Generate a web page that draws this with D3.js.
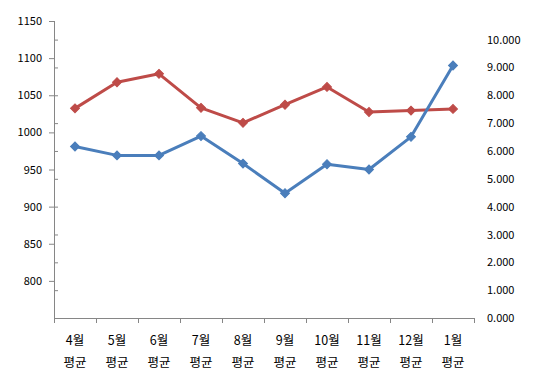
<!DOCTYPE html>
<html>
<head>
<meta charset="utf-8">
<script src="https://cdn.jsdelivr.net/npm/d3@7"></script>
<style>
  body { margin: 0; background: #fff; }
  text { font-family: "Noto Sans CJK KR", "Noto Sans", sans-serif; font-size: 11px; fill: #000; }
  text.cat { font-size: 12.5px; }
</style>
</head>
<body>
<div id="chart"></div>
<script>
// months on the x axis (second line is always 평균)
let months = ["4월", "5월", "6월", "7월", "8월", "9월", "10월", "11월", "12월", "1월"];
let subLabel = "평균";

// blue series, left axis
let leftValues = [981, 969, 969, 995, 958, 918, 957, 950, 994, 1090];
// red series, right axis
let rightValues = [7.53, 8.47, 8.77, 7.55, 7.01, 7.66, 8.30, 7.40, 7.45, 7.51];

let leftTicks = [800, 850, 900, 950, 1000, 1050, 1100, 1150];
let rightTicks = [0, 1, 2, 3, 4, 5, 6, 7, 8, 9, 10];

let width = 535, height = 383;
let plotLeft = 54, plotRight = 474, plotTop = 21, plotBottom = 318;
let axisColor = "#868686";

let svg = d3.select("#chart").append("svg")
    .attr("width", width)
    .attr("height", height);

let x = d3.scaleBand()
    .domain(months)
    .range([plotLeft, plotRight]);

let xEdge = d3.scaleLinear()
    .domain([0, months.length])
    .range([plotLeft, plotRight]);

let yLeft = d3.scaleLinear()
    .domain([750, 1150])
    .range([plotBottom, plotTop]);

let yRight = d3.scaleLinear()
    .domain([0, 10])
    .range([plotBottom, 39.6]);

// left axis with labels
let gLeft = svg.append("g")
    .attr("transform", "translate(" + plotLeft + ",0)")
    .call(d3.axisLeft(yLeft).tickValues(leftTicks).tickSize(5).tickPadding(7)
        .tickFormat(d3.format("d")));
gLeft.select(".domain").remove();
gLeft.selectAll("text").attr("font-size", null).attr("font-family", null);
gLeft.selectAll("line").attr("stroke", axisColor);

// inner ticks that Excel draws along the left axis line
let gInner = svg.append("g")
    .attr("transform", "translate(" + plotLeft + ",0)")
    .call(d3.axisRight(yRight).tickValues(rightTicks.slice(1)).tickSize(4).tickFormat(""));
gInner.select(".domain").remove();
gInner.selectAll("line").attr("stroke", axisColor);

svg.append("line")
    .attr("x1", plotLeft + 0.5).attr("x2", plotLeft + 0.5)
    .attr("y1", plotTop).attr("y2", plotBottom)
    .attr("stroke", axisColor);

// right axis, labels only
let gRight = svg.append("g")
    .attr("transform", "translate(487,0)")
    .call(d3.axisRight(yRight).tickValues(rightTicks).tickSize(0).tickPadding(0)
        .tickFormat(d3.format(".3f")));
gRight.select(".domain").remove();
gRight.selectAll("text").attr("font-size", null).attr("font-family", null);

// x axis: line and boundary ticks
let gX = svg.append("g")
    .attr("transform", "translate(0," + plotBottom + ")")
    .call(d3.axisBottom(xEdge).ticks(months.length).tickSize(5).tickFormat("").tickSizeOuter(5));
gX.select(".domain").attr("stroke", axisColor);
gX.selectAll("line").attr("stroke", axisColor);

// category labels, two lines each
let labels = svg.append("g").selectAll("text")
    .data(months)
    .enter().append("text")
    .attr("class", "cat")
    .attr("text-anchor", "middle")
    .attr("x", function (d) { return x(d) + x.bandwidth() / 2; });
labels.append("tspan")
    .attr("x", function (d) { return x(d) + x.bandwidth() / 2; })
    .attr("y", 345)
    .text(function (d) { return d; });
labels.append("tspan")
    .attr("x", function (d) { return x(d) + x.bandwidth() / 2; })
    .attr("y", 367)
    .text(subLabel);

function cx(i) {
    return x(months[i]) + x.bandwidth() / 2;
}

function drawSeries(values, yScale, color) {
    let line = d3.line()
        .x(function (d, i) { return cx(i); })
        .y(function (d) { return yScale(d); });

    svg.append("path")
        .datum(values)
        .attr("fill", "none")
        .attr("stroke", color)
        .attr("stroke-width", 3)
        .attr("stroke-linejoin", "round")
        .attr("d", line);

    svg.append("g").selectAll("path")
        .data(values)
        .enter().append("path")
        .attr("d", d3.symbol().type(d3.symbolSquare).size(40))
        .attr("transform", function (d, i) {
            return "translate(" + cx(i) + "," + yScale(d) + ") rotate(45)";
        })
        .attr("fill", color)
        .attr("stroke", color)
        .attr("stroke-width", 1);
}

drawSeries(rightValues, yRight, "#BE4B48");
drawSeries(leftValues, yLeft, "#4A7EBB");
</script>
</body>
</html>
